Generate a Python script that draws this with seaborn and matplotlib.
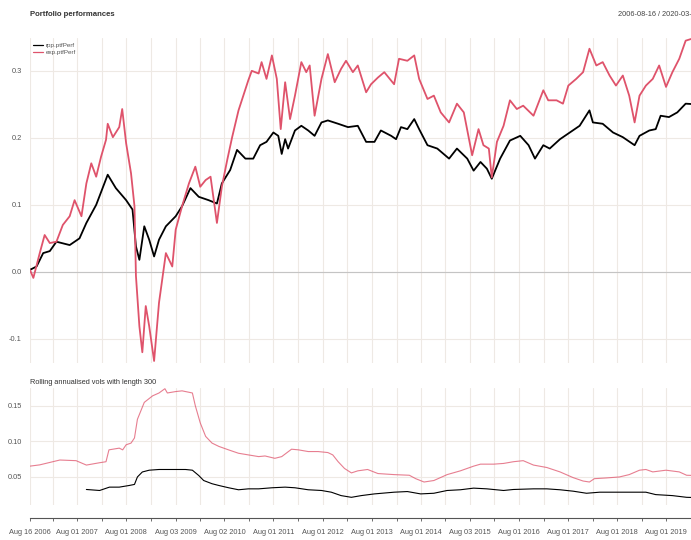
import numpy as np
import pandas as pd
import matplotlib
matplotlib.use("Agg")
import matplotlib.pyplot as plt
import seaborn as sns

# cumulative performance (decimal year, value)
rpp_t = [2006.62, 2006.755, 2006.89, 2007.025, 2007.16, 2007.43, 2007.63, 2007.77, 2007.97, 2008.205,
         2008.37, 2008.58, 2008.71, 2008.78, 2008.85, 2008.95, 2009.05, 2009.15, 2009.25, 2009.39,
         2009.59, 2009.72, 2009.89, 2010.06, 2010.26, 2010.43, 2010.53, 2010.70, 2010.84, 2011.01,
         2011.17, 2011.31, 2011.44, 2011.58, 2011.68, 2011.75, 2011.82, 2011.88, 2012.02, 2012.15,
         2012.29, 2012.42, 2012.56, 2012.69, 2012.90, 2013.10, 2013.30, 2013.47, 2013.64, 2013.77,
         2013.98, 2014.08, 2014.18, 2014.31, 2014.45, 2014.55, 2014.72, 2014.92, 2015.16, 2015.32,
         2015.53, 2015.66, 2015.80, 2015.93, 2016.03, 2016.20, 2016.40, 2016.61, 2016.78, 2016.91,
         2017.08, 2017.21, 2017.42, 2017.62, 2017.82, 2018.02, 2018.09, 2018.29, 2018.50, 2018.70,
         2018.94, 2019.04, 2019.24, 2019.37, 2019.47, 2019.64, 2019.81, 2019.98, 2020.20]
rpp_v = [0.003, 0.008, 0.028, 0.031, 0.045, 0.040, 0.050, 0.073, 0.100, 0.145,
         0.125, 0.107, 0.093, 0.038, 0.018, 0.068, 0.048, 0.023, 0.048, 0.068,
         0.083, 0.098, 0.125, 0.112, 0.107, 0.102, 0.132, 0.152, 0.182, 0.169,
         0.169, 0.189, 0.194, 0.208, 0.203, 0.176, 0.198, 0.184, 0.211, 0.218,
         0.211, 0.203, 0.223, 0.226, 0.221, 0.216, 0.218, 0.194, 0.194, 0.211,
         0.203, 0.198, 0.216, 0.213, 0.228, 0.213, 0.189, 0.184, 0.169, 0.184,
         0.169, 0.151, 0.164, 0.154, 0.139, 0.169, 0.196, 0.203, 0.189, 0.169,
         0.189, 0.184, 0.198, 0.208, 0.218, 0.241, 0.223, 0.221, 0.208, 0.201,
         0.189, 0.203, 0.211, 0.213, 0.233, 0.231, 0.238, 0.251, 0.250]

exp_t = [2006.62, 2006.69, 2006.82, 2006.92, 2007.025, 2007.16, 2007.29, 2007.43, 2007.53, 2007.67,
         2007.77, 2007.87, 2007.97, 2008.07, 2008.17, 2008.205, 2008.31, 2008.44, 2008.50, 2008.58,
         2008.68, 2008.75, 2008.78, 2008.85, 2008.91, 2008.98, 2009.05, 2009.15, 2009.25, 2009.39,
         2009.52, 2009.59, 2009.72, 2009.86, 2009.99, 2010.09, 2010.20, 2010.30, 2010.43, 2010.53,
         2010.64, 2010.74, 2010.87, 2011.07, 2011.14, 2011.28, 2011.34, 2011.44, 2011.55, 2011.65,
         2011.73, 2011.82, 2011.92, 2012.02, 2012.15, 2012.25, 2012.32, 2012.42, 2012.56, 2012.69,
         2012.83, 2012.96, 2013.06, 2013.20, 2013.30, 2013.47, 2013.57, 2013.71, 2013.84, 2014.04,
         2014.14, 2014.31, 2014.45, 2014.55, 2014.72, 2014.85, 2014.99, 2015.16, 2015.32, 2015.46,
         2015.63, 2015.76, 2015.86, 2015.97, 2016.03, 2016.135, 2016.27, 2016.40, 2016.54, 2016.67,
         2016.88, 2017.08, 2017.18, 2017.35, 2017.48, 2017.59, 2017.75, 2017.89, 2018.02, 2018.16,
         2018.29, 2018.43, 2018.56, 2018.70, 2018.83, 2018.94, 2019.04, 2019.17, 2019.31, 2019.44,
         2019.58, 2019.71, 2019.85, 2019.98, 2020.20]
exp_v = [0.003, -0.009, 0.028, 0.055, 0.043, 0.045, 0.070, 0.083, 0.107, 0.083,
         0.132, 0.162, 0.142, 0.172, 0.197, 0.221, 0.201, 0.216, 0.243, 0.192,
         0.147, 0.098, -0.006, -0.081, -0.120, -0.051, -0.081, -0.133, -0.046, 0.028,
         0.008, 0.063, 0.098, 0.132, 0.157, 0.127, 0.137, 0.142, 0.073, 0.127,
         0.167, 0.201, 0.241, 0.286, 0.300, 0.296, 0.313, 0.288, 0.323, 0.288,
         0.213, 0.283, 0.228, 0.263, 0.313, 0.298, 0.308, 0.233, 0.288, 0.325,
         0.283, 0.303, 0.315, 0.298, 0.308, 0.268, 0.280, 0.290, 0.298, 0.280,
         0.318, 0.315, 0.323, 0.288, 0.258, 0.263, 0.238, 0.223, 0.251, 0.238,
         0.174, 0.213, 0.189, 0.184, 0.141, 0.194, 0.218, 0.256, 0.243, 0.248,
         0.233, 0.271, 0.256, 0.256, 0.251, 0.278, 0.288, 0.298, 0.333, 0.308,
         0.313, 0.293, 0.278, 0.293, 0.263, 0.223, 0.263, 0.278, 0.288, 0.308,
         0.276, 0.298, 0.318, 0.345, 0.350]

# rolling annualised vols (length 300)
rpp_vol_t = [2007.77, 2008.04, 2008.24, 2008.44, 2008.64, 2008.75, 2008.81, 2008.91, 2009.05, 2009.25,
             2009.45, 2009.79, 2009.93, 2010.06, 2010.16, 2010.33, 2010.47, 2010.67, 2010.87, 2011.07,
             2011.28, 2011.55, 2011.82, 2012.02, 2012.29, 2012.56, 2012.76, 2012.96, 2013.17, 2013.37,
             2013.64, 2014.04, 2014.31, 2014.58, 2014.85, 2015.12, 2015.39, 2015.66, 2015.93, 2016.27,
             2016.47, 2016.88, 2017.15, 2017.42, 2017.69, 2017.96, 2018.23, 2018.90, 2019.17, 2019.37,
             2019.71, 2020.00, 2020.20]
rpp_vol_v = [0.0324, 0.0310, 0.0357, 0.0357, 0.0380, 0.0395, 0.0500, 0.0570, 0.0595, 0.0605,
             0.0605, 0.0605, 0.0595, 0.0520, 0.0450, 0.0405, 0.0380, 0.0348, 0.0320, 0.0333,
             0.0333, 0.0348, 0.0357, 0.0348, 0.0320, 0.0310, 0.0286, 0.0238, 0.0214, 0.0238,
             0.0262, 0.0286, 0.0295, 0.0262, 0.0271, 0.0310, 0.0320, 0.0343, 0.0333, 0.0310,
             0.0324, 0.0333, 0.0333, 0.0320, 0.0300, 0.0271, 0.0286, 0.0286, 0.0286, 0.0252,
             0.0238, 0.0214, 0.0210]

exp_vol_t = [2006.62, 2006.82, 2007.23, 2007.56, 2007.77, 2008.04, 2008.17, 2008.23, 2008.44, 2008.51,
             2008.58, 2008.68, 2008.75, 2008.81, 2008.95, 2009.12, 2009.25, 2009.37, 2009.42, 2009.59,
             2009.72, 2009.86, 2009.93, 2009.99, 2010.09, 2010.20, 2010.33, 2010.47, 2010.67, 2010.87,
             2011.07, 2011.28, 2011.41, 2011.61, 2011.75, 2011.95, 2012.09, 2012.29, 2012.49, 2012.69,
             2012.79, 2012.90, 2013.03, 2013.17, 2013.30, 2013.50, 2013.71, 2014.04, 2014.35, 2014.48,
             2014.65, 2014.85, 2015.12, 2015.39, 2015.66, 2015.80, 2016.07, 2016.27, 2016.47, 2016.67,
             2016.88, 2017.15, 2017.42, 2017.69, 2017.89, 2018.02, 2018.12, 2018.36, 2018.63, 2018.83,
             2019.04, 2019.17, 2019.31, 2019.58, 2019.85, 2020.00, 2020.20]
exp_vol_v = [0.0652, 0.0670, 0.0738, 0.0729, 0.0667, 0.0700, 0.0714, 0.0881, 0.0905, 0.0881,
             0.0952, 0.0976, 0.1048, 0.1310, 0.1548, 0.1640, 0.1680, 0.1740, 0.1680, 0.1700,
             0.1710, 0.1690, 0.1680, 0.1500, 0.1260, 0.1070, 0.0976, 0.0929, 0.0880, 0.0833,
             0.0810, 0.0786, 0.0795, 0.0762, 0.0786, 0.0890, 0.0881, 0.0857, 0.0857, 0.0843,
             0.0810, 0.0714, 0.0619, 0.0557, 0.0586, 0.0605, 0.0548, 0.0533, 0.0524, 0.0476,
             0.0429, 0.0450, 0.0533, 0.0586, 0.0652, 0.0680, 0.0680, 0.0690, 0.0714, 0.0729,
             0.0667, 0.0633, 0.0571, 0.0490, 0.0443, 0.0429, 0.0476, 0.0486, 0.0500, 0.0533,
             0.0595, 0.0605, 0.0571, 0.0595, 0.0571, 0.0524, 0.0520]

major_dates = ["2006-08-16", "2007-08-01", "2008-08-01", "2009-08-03", "2010-08-02", "2011-08-01",
               "2012-08-01", "2013-08-01", "2014-08-01", "2015-08-03", "2016-08-01", "2017-08-01",
               "2018-08-01", "2019-08-01"]
major_labels = ["Aug 16 2006", "Aug 01 2007", "Aug 01 2008", "Aug 03 2009", "Aug 02 2010",
                "Aug 01 2011", "Aug 01 2012", "Aug 01 2013", "Aug 01 2014", "Aug 03 2015",
                "Aug 01 2016", "Aug 01 2017", "Aug 01 2018", "Aug 01 2019"]
minor_dates = ["2007-02-01", "2008-02-01", "2009-02-02", "2010-02-01", "2011-02-01", "2012-02-01",
               "2013-02-01", "2014-02-03", "2015-02-02", "2016-02-01", "2017-02-01", "2018-02-01",
               "2019-02-01", "2020-02-03"]

perf_ticks = [-0.1, 0.0, 0.1, 0.2, 0.3]
perf_labels = ["-0.1", "0.0", "0.1", "0.2", "0.3"]
vol_ticks = [0.05, 0.10, 0.15]
vol_labels = ["0.05", "0.10", "0.15"]

BLACK = "#000000"
RED = "#DF536B"
GRID = "#EEE9E4"
TXT = "#555555"


def to_dates(yrs):
    yrs = np.asarray(yrs, dtype=float)
    return pd.Timestamp("2006-01-01") + pd.to_timedelta((yrs - 2006) * 365.25, unit="D")


perf = pd.DataFrame({"date": to_dates(rpp_t), "value": rpp_v, "series": "rpp.ptfPerf"})
perf = pd.concat([perf, pd.DataFrame({"date": to_dates(exp_t), "value": exp_v, "series": "exp.ptfPerf"})])
vols = pd.DataFrame({"date": to_dates(rpp_vol_t), "value": rpp_vol_v, "series": "rpp"})
vols = pd.concat([vols, pd.DataFrame({"date": to_dates(exp_vol_t), "value": exp_vol_v, "series": "exp"})])

sns.set_theme(style="white")
plt.rcParams["font.family"] = ["Liberation Sans", "DejaVu Sans"]

W, H = 691, 540
PX = 0.72  # points per pixel at dpi 100
fig = plt.figure(figsize=(W / 100, H / 100), dpi=100)
ax1 = fig.add_axes([30 / W, 1 - 363 / H, 661 / W, 325 / H])
ax2 = fig.add_axes([30 / W, 1 - 505 / H, 661 / W, 117 / H])

sns.lineplot(data=perf, x="date", y="value", hue="series", estimator=None, sort=False,
             palette={"rpp.ptfPerf": BLACK, "exp.ptfPerf": RED},
             hue_order=["rpp.ptfPerf", "exp.ptfPerf"], linewidth=1.3, ax=ax1, zorder=3)
sns.lineplot(data=vols, x="date", y="value", hue="series", estimator=None, sort=False,
             palette={"rpp": BLACK, "exp": RED}, linewidth=0.8, ax=ax2, legend=False, zorder=3)
ax2.lines[1].set_alpha(0.75)

x0 = pd.Timestamp("2006-08-16")
x1 = to_dates([2020.0])[0]
for ax in (ax1, ax2):
    ax.set_xlim(x0, x1)
    for s in ax.spines.values():
        s.set_visible(False)
    ax.set_xticks(pd.to_datetime(major_dates))
    ax.set_xticks(pd.to_datetime(minor_dates), minor=True)
    ax.grid(axis="x", which="both", color=GRID, linewidth=0.8)
    ax.grid(axis="y", color=GRID, linewidth=0.8)
    ax.set_xlabel("")
    ax.set_ylabel("")
    ax.tick_params(axis="y", length=0, pad=6, labelsize=5.3, labelcolor=TXT)

ax1.set_ylim(-0.136, 0.349)
ax1.set_yticks(perf_ticks, perf_labels)
ax1.axhline(0, color="#C4C4C4", linewidth=0.8, zorder=2)
ax1.tick_params(axis="x", which="both", length=0, labelbottom=False)

ax2.set_ylim(0.0106, 0.175)
ax2.set_yticks(vol_ticks, vol_labels)
ax2.set_xticklabels(major_labels)
ax2.spines["bottom"].set_visible(True)
ax2.spines["bottom"].set_position(("outward", 13 * PX))
ax2.spines["bottom"].set_color("#555555")
ax2.spines["bottom"].set_linewidth(0.8)
ax2.tick_params(axis="x", which="both", bottom=True, length=3 * PX, width=0.6, color="#555555",
                pad=8 * PX, labelsize=5.3, labelcolor=TXT)

leg = ax1.legend(loc="upper left", bbox_to_anchor=(33 / W, 1 - 43 / H), bbox_transform=fig.transFigure,
                 frameon=False, fontsize=4.5, handlelength=1.6, handletextpad=0.5, labelspacing=0.15,
                 borderpad=0, borderaxespad=0)
for t in leg.get_texts():
    t.set_color(TXT)
for l in leg.get_lines():
    l.set_linewidth(0.9)

fig.text(30 / W, 1 - 14 / H, "Portfolio performances", fontsize=5.6, fontweight="bold",
         color="#333333", va="center", ha="left")
fig.text(618 / W, 1 - 14 / H, "2006-08-16 / 2020-03-31", fontsize=5.3, color="#444444",
         va="center", ha="left")
fig.text(30 / W, 1 - 383 / H, "Rolling annualised vols with length 300", fontsize=5.3,
         color="#333333", va="center", ha="left")

fig.savefig("out.png", dpi=100)
